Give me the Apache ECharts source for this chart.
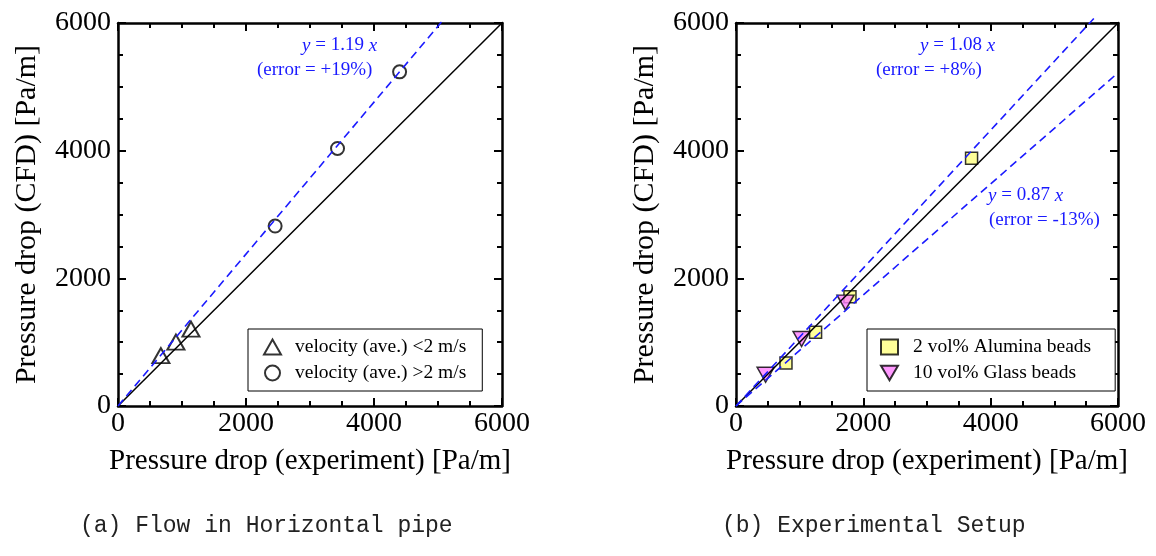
<!DOCTYPE html>
<html>
<head>
<meta charset="utf-8">
<title>Pressure drop CFD vs experiment</title>
<script src="https://cdn.jsdelivr.net/npm/echarts@6/dist/echarts.min.js"></script>
<style>
  html, body { margin: 0; padding: 0; background: #fff; }
  #main { width: 1156px; height: 556px; }
</style>
</head>
<body>
<div id="main"></div>
<script>
// axis range (both panels)
var axisMin = 0, axisMax = 6000, axisStep = 2000;

// (a) horizontal pipe: [experiment, CFD]
var lowVelName = 'velocity (ave.) <2 m/s';
var lowVel = [[670, 790], [905, 1000], [1140, 1205]];
var highVelName = 'velocity (ave.) >2 m/s';
var highVel = [[2455, 2820], [3430, 4035], [4400, 5235]];
var fitA = [[0, 0], [5100, 6069]];          // y = 1.19 x

// (b) experimental setup
var aluminaName = '2 vol% Alumina beads';
var alumina = [[785, 675], [1250, 1155], [1790, 1710], [3700, 3880]];
var glassName = '10 vol% Glass beads';
var glass = [[465, 490], [1030, 1050], [1720, 1620]];
var fitHigh = [[0, 0], [5620, 6070]];       // y = 1.08 x
var fitLow = [[0, 0], [6000, 5220]];        // y = 0.87 x

var diag = [[0, 0], [6000, 6000]];

var serif = 'Liberation Serif';
var blue = '#1a1aff';
var downTri = 'path://M0,0 L20,0 L10,17 Z';

var chart = echarts.init(document.getElementById('main'));

function axis(kind, grid, pos, labels) {
    var a = {
        type: 'value', gridIndex: grid, position: pos,
        min: axisMin, max: axisMax, interval: axisStep,
        axisLine: { show: true, onZero: false, lineStyle: { color: '#000', width: 2.5 } },
        axisTick: { show: true, inside: true, length: 8, lineStyle: { color: '#000', width: 2 } },
        minorTick: { show: true, splitNumber: 4, length: 5, lineStyle: { color: '#000', width: 2 } },
        splitLine: { show: false },
        axisLabel: { show: labels, color: '#000', fontFamily: serif, fontSize: 28,
                     margin: kind === 'x' ? 4 : 7,
                     formatter: function (v) { return String(v); } }
    };
    if (labels) {
        a.nameLocation = 'middle';
        a.nameTextStyle = { color: '#000', fontFamily: serif, fontSize: kind === 'x' ? 29 : 30 };
        if (kind === 'x') { a.name = 'Pressure drop (experiment) [Pa/m]'; a.nameGap = 41; }
        else { a.name = 'Pressure drop (CFD) [Pa/m]'; a.nameGap = 76; }
    }
    return a;
}

function refLine(data, xi, dashed) {
    return {
        type: 'line', data: data, xAxisIndex: xi, yAxisIndex: xi,
        symbol: 'none', silent: true, clip: false,
        lineStyle: dashed ? { color: blue, width: 1.6, type: [8, 5] } : { color: '#000', width: 1.5 }
    };
}

var legendBase = {
    orient: 'vertical', top: 329, itemWidth: 17, itemHeight: 15, itemGap: 4,
    borderColor: '#000', borderWidth: 1, backgroundColor: '#fff'
};

var option = {
    animation: false,
    grid: [
        { left: 118, top: 23, width: 384, height: 383 },
        { left: 736, top: 23, width: 382, height: 383 }
    ],
    xAxis: [axis('x', 0, 'bottom', true), axis('x', 1, 'bottom', true),
            axis('x', 0, 'top', false), axis('x', 1, 'top', false)],
    yAxis: [axis('y', 0, 'left', true), axis('y', 1, 'left', true),
            axis('y', 0, 'right', false), axis('y', 1, 'right', false)],
    legend: [
        Object.assign({}, legendBase, {
            left: 248, padding: [7, 16, 7, 15], data: [lowVelName, highVelName],
            textStyle: { color: '#000', fontFamily: serif, fontSize: 19.5, lineHeight: 22, padding: [0, 0, 0, 9] }
        }),
        Object.assign({}, legendBase, {
            left: 867, padding: [7, 24, 7, 13], data: [aluminaName, { name: glassName, icon: downTri }],
            textStyle: { color: '#000', fontFamily: serif, fontSize: 19.5, lineHeight: 22, padding: [0, 0, 0, 10] }
        })
    ],
    series: [
        refLine(diag, 0, false),
        refLine(fitA, 0, true),
        refLine(diag, 1, false),
        refLine(fitHigh, 1, true),
        refLine(fitLow, 1, true),
        {
            name: lowVelName, type: 'scatter', data: lowVel, xAxisIndex: 0, yAxisIndex: 0,
            symbol: 'triangle', symbolSize: [17, 15],
            itemStyle: { color: '#fff', borderColor: '#000', borderWidth: 2 }
        },
        {
            name: highVelName, type: 'scatter', data: highVel, xAxisIndex: 0, yAxisIndex: 0,
            symbol: 'circle', symbolSize: 13,
            itemStyle: { color: '#fff', borderColor: '#000', borderWidth: 2 }
        },
        {
            name: aluminaName, type: 'scatter', data: alumina, xAxisIndex: 1, yAxisIndex: 1,
            symbol: 'rect', symbolSize: 12,
            itemStyle: { color: '#ffff80', borderColor: '#000', borderWidth: 1.5 }
        },
        {
            name: glassName, type: 'scatter', data: glass, xAxisIndex: 1, yAxisIndex: 1,
            symbol: downTri, symbolSize: [17, 15],
            itemStyle: { color: '#ff80ff', borderColor: '#000', borderWidth: 1.5 }
        }
    ],
    graphic: [
        { type: 'text', left: 302, top: 36, style: { text: '{i|y} = 1.19 {i|x}', fill: blue, font: '19px ' + serif, rich: { i: { fontStyle: 'italic', fill: blue, fontSize: 19, fontFamily: serif } } } },
        { type: 'text', left: 257, top: 61, style: { text: '(error = +19%)', fill: blue, font: '19px ' + serif } },
        { type: 'text', left: 920, top: 36, style: { text: '{i|y} = 1.08 {i|x}', fill: blue, font: '19px ' + serif, rich: { i: { fontStyle: 'italic', fill: blue, fontSize: 19, fontFamily: serif } } } },
        { type: 'text', left: 876, top: 61, style: { text: '(error = +8%)', fill: blue, font: '19px ' + serif } },
        { type: 'text', left: 988, top: 186, style: { text: '{i|y} = 0.87 {i|x}', fill: blue, font: '19px ' + serif, rich: { i: { fontStyle: 'italic', fill: blue, fontSize: 19, fontFamily: serif } } } },
        { type: 'text', left: 989, top: 211, style: { text: '(error = -13%)', fill: blue, font: '19px ' + serif } },
        { type: 'text', left: 80, top: 514, style: { text: '(a) Flow in Horizontal pipe', fill: '#222', font: '23px "Liberation Mono"' } },
        { type: 'text', left: 722, top: 514, style: { text: '(b) Experimental Setup', fill: '#222', font: '23px "Liberation Mono"' } }
    ]
};

chart.setOption(option);
</script>
</body>
</html>
